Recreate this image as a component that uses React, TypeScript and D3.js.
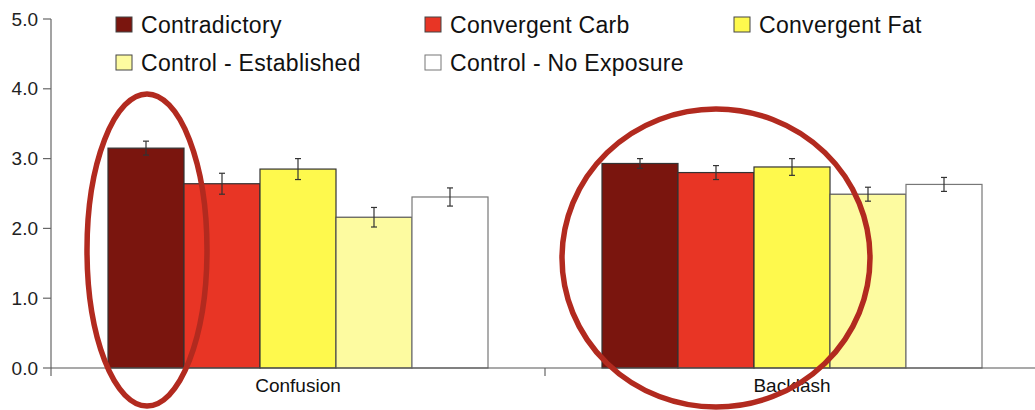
import * as React from "react";
import * as d3 from "d3";

const categories = ["Confusion", "Backlash"];
const series = [
  "Contradictory",
  "Convergent Carb",
  "Convergent Fat",
  "Control - Established",
  "Control - No Exposure",
];
const colors = ["#7a150e", "#e83525", "#fef94d", "#fdfba0", "#ffffff"];
const strokes = ["#333333", "#333333", "#333333", "#555555", "#777777"];

// values[series][category]
const values = [
  [3.15, 2.93],
  [2.64, 2.8],
  [2.85, 2.88],
  [2.16, 2.49],
  [2.45, 2.63],
];
const errors = [
  [0.1, 0.07],
  [0.15, 0.1],
  [0.15, 0.12],
  [0.14, 0.1],
  [0.13, 0.1],
];
const yTicks = [0, 1, 2, 3, 4, 5];

// red hand-drawn style highlight ellipses on top of the chart
const highlights = [
  { cx: 147, cy: 250, rx: 60, ry: 156 },
  { cx: 716, cy: 258, rx: 154, ry: 149 },
];

const W = 1035;
const H = 410;
const left = 51;
const top = 19;
const bottom = 368;

export default function App() {
  const x0 = d3.scaleBand().domain(categories).range([left, left + 988]);
  const x1 = d3.scaleBand().domain(series).range([0, 380]).paddingInner(0);
  const groupOffset = (x0.bandwidth() - 380) / 2;
  const y = d3.scaleLinear().domain([0, 5]).range([bottom, top]);

  const font = "'Liberation Sans', Arial, sans-serif";

  const legendCols = [116, 425, 734];
  const legendRows = [25, 63];

  return (
    <svg
      width={W}
      height={H}
      style={{ position: "fixed", left: 0, top: 0, background: "#fff" }}
    >
      {/* y axis */}
      <line x1={left} x2={left} y1={top} y2={bottom + 8} stroke="#666" strokeWidth={1.2} />
      {yTicks.map((t) => (
        <g key={t}>
          <line x1={left - 8} x2={left} y1={y(t)} y2={y(t)} stroke="#666" strokeWidth={1.2} />
          <text
            x={38}
            y={y(t)}
            dy="0.35em"
            textAnchor="end"
            fontFamily={font}
            fontSize={19}
            fill="#222"
          >
            {t.toFixed(1)}
          </text>
        </g>
      ))}

      {/* bars */}
      {categories.map((c, ci) => (
        <g key={c} transform={`translate(${(x0(c) ?? 0) + groupOffset},0)`}>
          {series.map((s, si) => {
            const v = values[si][ci];
            const e = errors[si][ci];
            const bx = x1(s) ?? 0;
            const cx = bx + x1.bandwidth() / 2;
            return (
              <g key={s}>
                <rect
                  x={bx}
                  y={y(v)}
                  width={x1.bandwidth()}
                  height={y(0) - y(v)}
                  fill={colors[si]}
                  stroke={strokes[si]}
                  strokeWidth={1.2}
                />
                <line x1={cx} x2={cx} y1={y(v + e)} y2={y(v - e)} stroke="#333" strokeWidth={1.2} />
                <line x1={cx - 3} x2={cx + 3} y1={y(v + e)} y2={y(v + e)} stroke="#333" strokeWidth={1.2} />
                <line x1={cx - 3} x2={cx + 3} y1={y(v - e)} y2={y(v - e)} stroke="#333" strokeWidth={1.2} />
              </g>
            );
          })}
        </g>
      ))}

      {/* x axis */}
      <line x1={left} x2={W} y1={bottom} y2={bottom} stroke="#555" strokeWidth={1.2} />
      <line
        x1={x0(categories[1])}
        x2={x0(categories[1])}
        y1={bottom}
        y2={bottom + 8}
        stroke="#666"
        strokeWidth={1.2}
      />
      {categories.map((c) => (
        <text
          key={c}
          x={(x0(c) ?? 0) + x0.bandwidth() / 2}
          y={392}
          textAnchor="middle"
          fontFamily={font}
          fontSize={19}
          fill="#111"
        >
          {c}
        </text>
      ))}

      {/* legend */}
      {series.map((s, i) => {
        const lx = legendCols[i % 3];
        const ly = legendRows[Math.floor(i / 3)];
        return (
          <g key={s}>
            <rect
              x={lx}
              y={ly - 8}
              width={16}
              height={15}
              fill={colors[i]}
              stroke={i === 4 ? "#777" : "#444"}
              strokeWidth={1}
            />
            <text
              x={lx + 25}
              y={ly}
              dy="0.35em"
              fontFamily={font}
              fontSize={23}
              letterSpacing={0.3}
              fill="#111"
            >
              {s}
            </text>
          </g>
        );
      })}

      {/* annotation ellipses */}
      {highlights.map((h, i) => (
        <ellipse
          key={i}
          cx={h.cx}
          cy={h.cy}
          rx={h.rx}
          ry={h.ry}
          fill="none"
          stroke="#b22a1f"
          strokeWidth={5.5}
        />
      ))}
    </svg>
  );
}
